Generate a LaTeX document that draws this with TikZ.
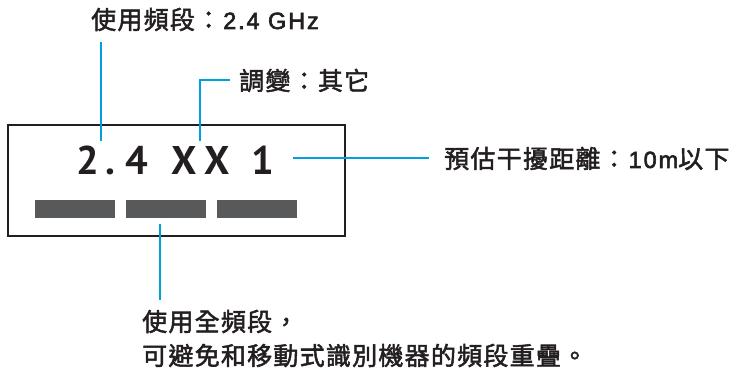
\documentclass[tikz,border=0pt]{standalone}
\usepackage{fontspec}
\newfontfamily\cjk{Noto Sans CJK TC}[LetterSpace=5, FakeBold=2]
\newfontfamily\lat{Liberation Sans}[LetterSpace=8, FakeBold=2.5]
\newfontfamily\codefont{PT Sans}
\definecolor{ink}{HTML}{231F20}
\definecolor{cblue}{HTML}{00A0E0}
\definecolor{bargray}{HTML}{58595B}
\begin{document}
\begin{tikzpicture}[x=1pt,y=-1pt,
  lbl/.style={inner sep=0pt, text=ink, font=\fontsize{25}{34}\selectfont\cjk},
  conn/.style={draw=cblue, line width=1.8pt},
  bar/.style={fill=bargray, inner sep=0pt, minimum width=80pt, minimum height=18pt},
  frame/.style={draw=ink, line width=1.8pt, inner sep=0pt, minimum width=337pt, minimum height=111pt}]
\useasboundingbox (0,0) rectangle (737,374);
% frame and code
\node[frame] (box) at (176.5,180.5) {};
\node[anchor=base west, inner sep=0pt, text=ink, font=\fontsize{40}{40}\selectfont\bfseries\codefont] (code) at (76,175)
  {\makebox[23pt]{2}\makebox[23pt]{.}\makebox[29pt]{4}\hspace{16pt}\makebox[33pt]{X}\makebox[33pt]{X}\makebox[60pt]{1}};
\node[bar] (b1) at (75,209) {};
\node[bar] (b2) at (166,209) {};
\node[bar] (b3) at (257,209) {};
% labels
\node[lbl, anchor=base west] (band) at (91,29) {使用頻段：\hspace{2pt}{\fontsize{23.5}{23.5}\selectfont\lat 2.4 GHz}};
\node[lbl, anchor=base west] (mod) at (239,90) {調變：其它};
\node[lbl, anchor=base west] (dist) at (444,168) {預估干擾距離：\hspace{2pt}{\fontsize{23.5}{23.5}\selectfont\lat 10m}以下};
\node[lbl, anchor=base west] (full1) at (142,331) {使用全頻段，};
\node[lbl, anchor=base west] (full2) at (142,365) {可避免和移動式識別機器的頻段重疊。};
% connector ends
\coordinate (a1) at (101,141);
\coordinate (a2) at (101,42);
\coordinate (m1) at (200,141);
\coordinate (m2) at (200,80);
\coordinate (m3) at (230,80);
\coordinate (d1) at (293,158);
\coordinate (d2) at (429,158);
\coordinate (f1) at (160,224);
\coordinate (f2) at (160,300);
\draw[conn] (a1) -- (a2);
\draw[conn] (m1) -- (m2) -- (m3);
\draw[conn] (d1) -- (d2);
\draw[conn] (f1) -- (f2);
\end{tikzpicture}
\end{document}
